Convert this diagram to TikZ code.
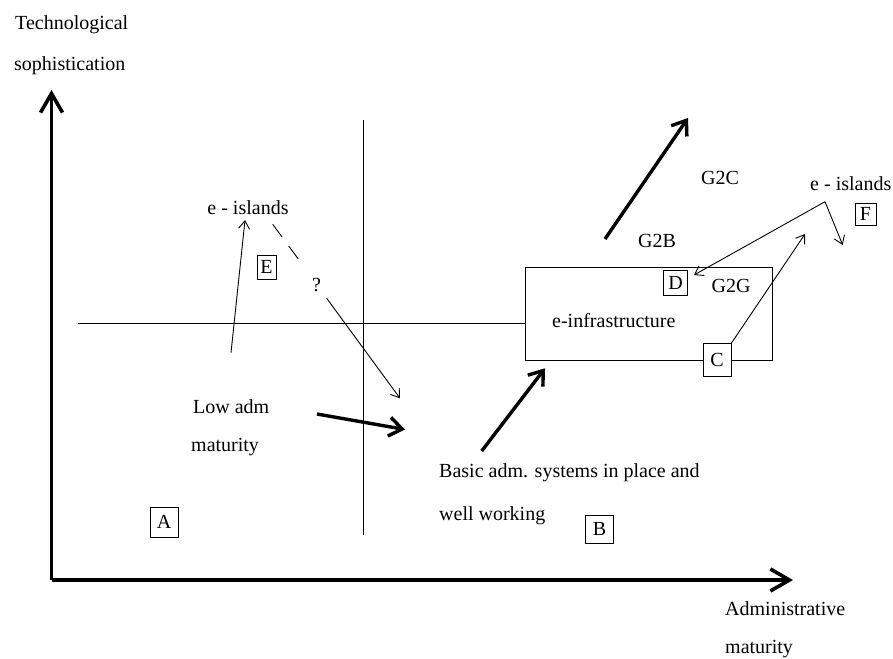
\documentclass[tikz,border=0pt]{standalone}
\usepackage{fontspec}
\setmainfont{Liberation Serif}
\usetikzlibrary{arrows.meta}
\begin{document}
\begin{tikzpicture}[x=1pt,y=-1pt,
  lbl/.style={font=\fontsize{20}{24}\selectfont, inner sep=0pt},
  lettbox/.style={draw, line width=1pt, font=\fontsize{20}{24}\selectfont, inner sep=0pt},
  axis/.style={line width=3.6pt, -{Straight Barb[length=19pt,width=22pt]}},
  bigarrow/.style={line width=3.4pt, -{Straight Barb[length=13pt,width=19pt]}},
  thinarrow/.style={line width=0.9pt, -{Straight Barb[length=8pt,width=11pt]}},
  thinline/.style={line width=1pt}]
\useasboundingbox (0,0) rectangle (893,658);
% axes
\coordinate (O) at (51.5,580);
\coordinate (ytip) at (51.5,90);
\coordinate (xtip) at (793,580);
\draw[axis] (O) -- (ytip);
\draw[axis] (O) -- (xtip);
% axis labels
\node[lbl, anchor=base west] (tech) at (15,30) {Technological};
\node[lbl, anchor=base west] (soph) at (14,71) {sophistication};
\node[lbl, anchor=base west] (adm) at (725,615) {Administrative};
\node[lbl, anchor=base west] (admmat) at (725,653) {maturity};
% quadrant lines
\coordinate (vtop) at (363,120);
\coordinate (vbot) at (363,535);
\coordinate (hl) at (78,323);
\draw[thinline] (vtop) -- (vbot);
% e-infrastructure box
\node[draw, line width=1pt, minimum width=246.6pt, minimum height=92.3pt, inner sep=0pt] (infra) at (649,313.9) {};
\draw[thinline] (hl) -- (infra.west |- hl);
\node[lbl, anchor=base west] (infratxt) at (552,327) {e-infrastructure};
% letter boxes
\node[lettbox, minimum width=28pt, minimum height=30pt] (A) at (164,522) {A};
\node[lettbox, minimum width=28pt, minimum height=28pt] (B) at (599.5,529) {B};
\node[lettbox, fill=white, minimum width=28pt, minimum height=33pt] (C) at (717,360) {C};
\node[lettbox, minimum width=24pt, minimum height=25pt] (D) at (675.5,282.5) {D};
\node[lettbox, minimum width=19pt, minimum height=24pt] (E) at (266.5,267) {E};
\node[lettbox, minimum width=21pt, minimum height=22pt] (F) at (865.5,214) {F};
% texts
\node[lbl, anchor=base west] (low1) at (193,413) {Low adm};
\node[lbl, anchor=base west] (low2) at (191,451) {maturity};
\node[lbl, anchor=base west] (basic1) at (439,477) {Basic adm. systems in place and};
\node[lbl, anchor=base west] (basic2) at (439,520) {well working};
\node[lbl, anchor=base] (isl1) at (248,214) {e - islands};
\node[lbl, anchor=base west] (isl2) at (810,190) {e - islands};
\node[lbl, anchor=base] (g2c) at (720,184) {G2C};
\node[lbl, anchor=base] (g2b) at (657,247) {G2B};
\node[lbl, anchor=base] (g2g) at (731,292) {G2G};
\node[lbl, anchor=base] (q) at (316.5,291) {?};
% thick arrows
\coordinate (t1s) at (317,414);
\coordinate (t1e) at (405,429.5);
\coordinate (t2s) at (481.7,451);
\coordinate (t2e) at (545,368.3);
\coordinate (t3s) at (605,239);
\coordinate (t3e) at (688,118);
\draw[bigarrow] (t1s) -- (t1e);
\draw[bigarrow] (t2s) -- (t2e);
\draw[bigarrow] (t3s) -- (t3e);
% thin arrows left
\coordinate (ups) at (231,352.7);
\coordinate (upe) at (245,220);
\draw[thinarrow] (ups) -- (upe);
\coordinate (dsh1) at (272.7,224.3);
\coordinate (dsh2) at (302.7,265);
\draw[thinline, line width=0.9pt, dash pattern=on 16pt off 11pt] (dsh1) -- (dsh2);
\coordinate (qs) at (326.7,298.3);
\coordinate (qe) at (400,398.3);
\draw[thinarrow] (qs) -- (qe);
% thin arrows right
\coordinate (apex) at (825,201.7);
\coordinate (dtip) at (694,275);
\coordinate (ftip) at (842.7,245);
\coordinate (ctip) at (805,234);
\draw[thinarrow] (apex) -- (dtip);
\draw[thinarrow] (apex) -- (ftip);
\draw[thinarrow] (C.north east) -- (ctip);
\end{tikzpicture}
\end{document}
